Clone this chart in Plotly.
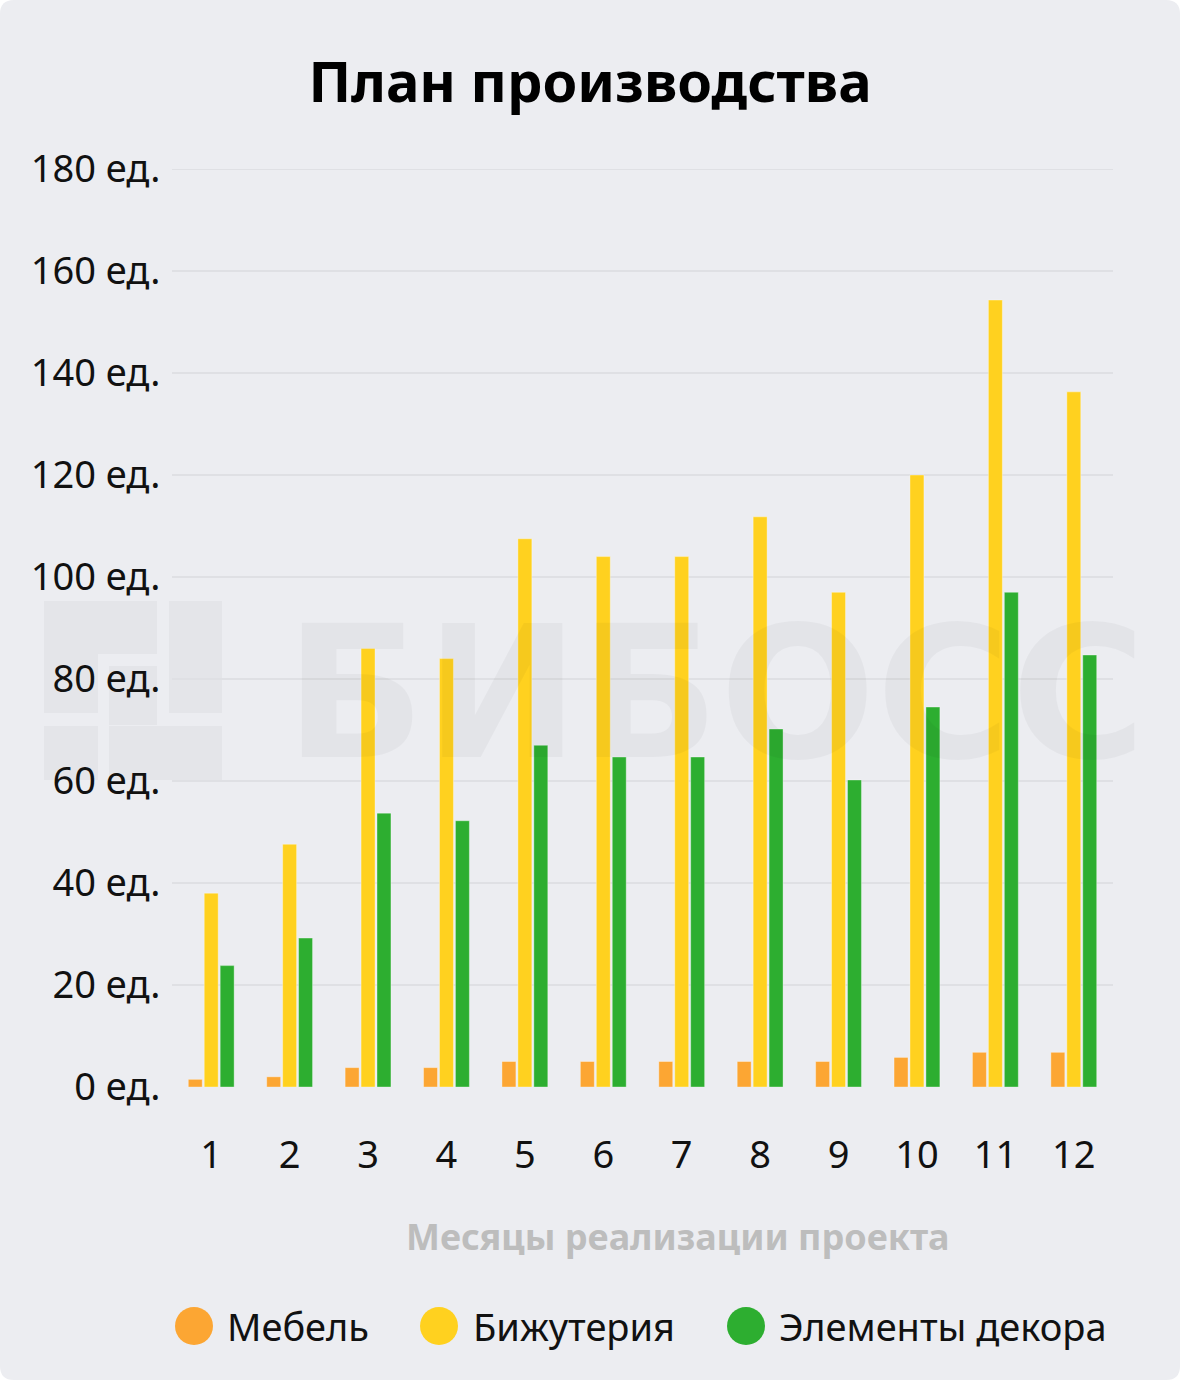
import plotly.graph_objects as go

# ---------------- data ----------------
months = ["1", "2", "3", "4", "5", "6", "7", "8", "9", "10", "11", "12"]
furniture = [1.5, 2, 3.8, 3.8, 5, 5, 5, 5, 5, 5.8, 6.8, 6.8]
jewelry = [38, 47.6, 86, 84, 107.5, 104, 104, 111.8, 97, 120, 154.3, 136.3]
decor = [23.8, 29.2, 53.7, 52.2, 67, 64.7, 64.7, 70.2, 60.2, 74.5, 97, 84.7]
series_names = ["Мебель", "Бижутерия", "Элементы декора"]
y_ticks = [0, 20, 40, 60, 80, 100, 120, 140, 160, 180]
y_ticktext = [f"{v} ед." for v in y_ticks]

title_text = "План производства"
x_title = "Месяцы реализации проекта"
watermark = "БИБОСС"

# ---------------- style ----------------
colors = ["#FCA633", "#FFD11F", "#2DAE30"]
W, H = 1180, 1380
L, R, T, B = 172, 67, 169, 293
PW, PH = W - L - R, H - T - B
FONT = "Noto Sans"
BG = "#ECEDF1"
GRID = "#DFE0E4"
FS = 38


def fx(px):
    return (px - L) / PW


def fy(py):
    return (H - B - py) / PH


fig = go.Figure()
for name, vals, col in zip(series_names, [furniture, jewelry, decor], colors):
    fig.add_trace(go.Bar(
        x=months, y=vals, name=name,
        marker=dict(color=col, line=dict(color="rgba(255,255,255,0.35)", width=1)),
        showlegend=False,
    ))

shapes = []
# rounded card background
r = 14
x0, x1, y0, y1 = 0, W, 0, H
path = (
    f"M {fx(x0 + r)} {fy(y0)} L {fx(x1 - r)} {fy(y0)} "
    f"Q {fx(x1)} {fy(y0)} {fx(x1)} {fy(y0 + r)} "
    f"L {fx(x1)} {fy(y1 - r)} Q {fx(x1)} {fy(y1)} {fx(x1 - r)} {fy(y1)} "
    f"L {fx(x0 + r)} {fy(y1)} Q {fx(x0)} {fy(y1)} {fx(x0)} {fy(y1 - r)} "
    f"L {fx(x0)} {fy(y0 + r)} Q {fx(x0)} {fy(y0)} {fx(x0 + r)} {fy(y0)} Z"
)
shapes.append(dict(type="path", path=path, xref="paper", yref="paper",
                   fillcolor=BG, line=dict(width=0), layer="below"))

# watermark logo blocks
wm_col = "#E4E5E9"
blocks = [(44, 601, 157, 654), (44, 601, 98, 713), (109, 666, 157, 725),
          (169, 601, 222, 713), (44, 726, 98, 780), (109, 726, 222, 780)]
for bx0, by0, bx1, by1 in blocks:
    shapes.append(dict(type="rect", xref="paper", yref="paper",
                       x0=fx(bx0), x1=fx(bx1), y0=fy(by1), y1=fy(by0),
                       fillcolor=wm_col, line=dict(width=0), layer="below"))

# top gridline (at the range edge)
shapes.append(dict(type="line", xref="paper", yref="y", x0=0, x1=1,
                   y0=y_ticks[-1], y1=y_ticks[-1],
                   line=dict(color=GRID, width=2), layer="below"))

annotations = []
# watermark text
annotations.append(dict(text=f"<b>{watermark}</b>", xref="paper", yref="paper",
                        x=fx(715), y=fy(693), xanchor="center", yanchor="middle",
                        showarrow=False,
                        font=dict(family="DejaVu Sans", size=184, color="rgba(0,0,0,0.035)")))
# x axis title
annotations.append(dict(text=f"<b>{x_title}</b>", xref="paper", yref="paper",
                        x=fx(678), y=fy(1236), xanchor="center", yanchor="middle",
                        showarrow=False,
                        font=dict(family=FONT, size=36, color="#BDBDBD")))

# manual legend
leg_circle_x = [194, 439, 746]
leg_text_x = [225, 471, 777]
leg_y = 1326
rad = 19
for name, col, cx, tx in zip(series_names, colors, leg_circle_x, leg_text_x):
    shapes.append(dict(type="circle", xref="paper", yref="paper",
                       x0=fx(cx - rad), x1=fx(cx + rad),
                       y0=fy(leg_y + rad), y1=fy(leg_y - rad),
                       fillcolor=col, line=dict(width=0)))
    annotations.append(dict(text=name, xref="paper", yref="paper",
                            x=fx(tx), y=fy(leg_y), xanchor="left", yanchor="middle",
                            showarrow=False,
                            font=dict(family=FONT, size=FS, color="#111111")))

fig.update_layout(
    width=W, height=H,
    margin=dict(l=L, r=R, t=T, b=B),
    paper_bgcolor="white",
    plot_bgcolor="rgba(0,0,0,0)",
    barmode="group", bargap=0.39, bargroupgap=0.125,
    title=dict(text=f"<b>{title_text}</b>", x=0.5, xanchor="center",
               y=1 - 82 / H, yanchor="middle", yref="container",
               font=dict(family=FONT, size=56, color="#000000")),
    font=dict(family=FONT, color="#111111"),
    shapes=shapes,
    annotations=annotations,
    showlegend=False,
    xaxis=dict(type="category", range=[-0.5, 11.5], showgrid=False, zeroline=False,
               showline=False, ticks="outside", ticklen=34, tickcolor="rgba(0,0,0,0)",
               tickfont=dict(family=FONT, size=FS, color="#111111")),
    yaxis=dict(range=[0, 180], tickvals=y_ticks, ticktext=y_ticktext,
               showgrid=True, gridcolor=GRID, gridwidth=2, zeroline=False,
               showline=False, ticks="outside", ticklen=3, tickcolor="rgba(0,0,0,0)",
               tickfont=dict(family=FONT, size=FS, color="#111111")),
)

fig.write_html("out.html")
